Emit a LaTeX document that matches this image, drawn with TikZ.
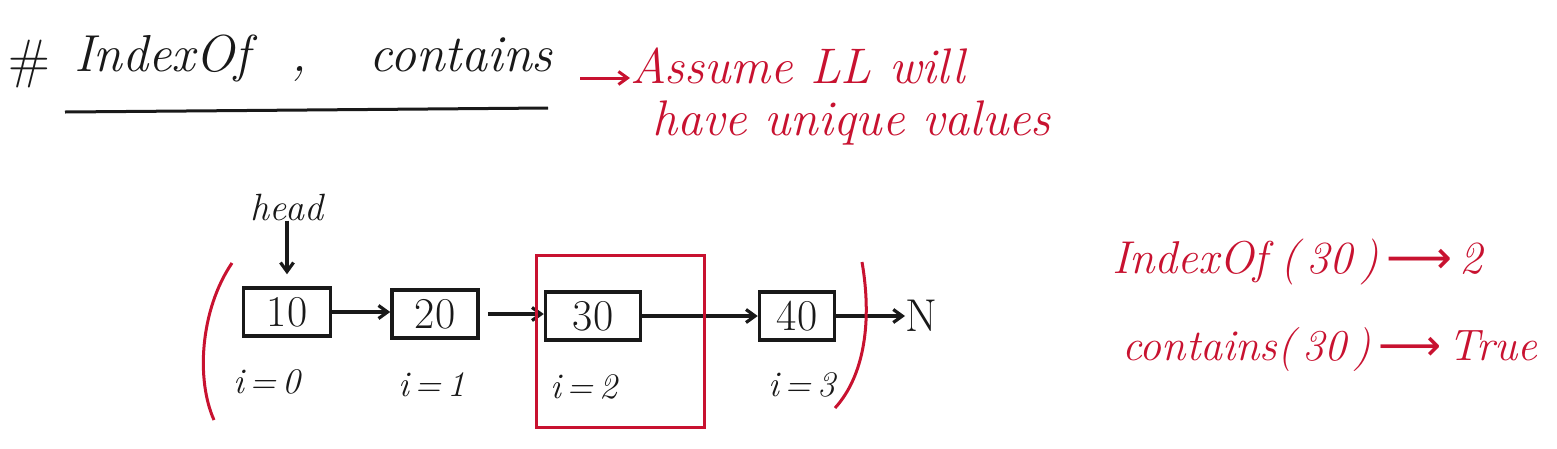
\documentclass[tikz,border=0pt]{standalone}
\usepackage{fontspec}
\newfontfamily\arrowfont{DejaVu Sans}
\usetikzlibrary{arrows.meta}
\definecolor{handred}{RGB}{200,18,48}
\definecolor{ink}{RGB}{25,25,25}
\begin{document}
\begin{tikzpicture}[x=1pt,y=-1pt,
  hand/.style={font=\fontsize{#1}{#1}\selectfont\itshape, inner sep=0pt},
  hand/.default=44,
  box/.style={draw=ink, line width=3.5pt, minimum height=48pt, inner sep=0pt, font=\fontsize{44}{44}\selectfont, text=ink},
  arr/.style={draw=ink, line width=3.2pt, -{Straight Barb[length=9pt,width=13pt]}},
  redarr/.style={draw=handred, line width=3pt, -{Straight Barb[length=9pt,width=13pt]}},
  redline/.style={draw=handred, line width=3pt},
  lbl/.style={hand=36, text=ink}
]
\useasboundingbox (0,0) rectangle (1557,448);
% title
\node[hand=54, text=ink, anchor=west] (hash) at (8,64) {\upshape\#};
\node[hand=52, text=ink, anchor=west] (title) at (74,58) {IndexOf\hspace{42pt},\hspace{62pt}contains};
\coordinate (ulA) at (65,112);
\coordinate (ulB) at (548,108);
\draw[ink, line width=3pt] (ulA) -- (ulB);
\node[hand=50, text=handred, anchor=north west, align=left] (note) at (630,48) {Assume LL will\\[2pt]\hspace{22pt}have unique values};
\coordinate (noteA) at (580,78);
\draw[redarr] (noteA) -- (note.west |- noteA);
% list
\node[hand=38, text=ink] (head) at (287,207) {head};
\node[box, minimum width=87pt] (n10) at (287,312) {10};
\node[box, minimum width=86pt] (n20) at (435,314) {20};
\node[box, minimum width=95pt] (n30) at (593,316) {30};
\node[box, minimum width=75pt] (n40) at (797,316) {40};
\node[hand=46, text=ink, anchor=west] (nul) at (905,316) {\upshape N};
\draw[arr, shorten >=12pt] (head) -- (n10);
\draw[arr] (n10.east) -- (n20.west |- n10.east);
\draw[arr, shorten <=8pt] (n20.east) -- (n30.west |- n20.east);
\draw[arr] (n30.east) -- (n40.west |- n30.east);
\draw[arr] (n40.east) -- (nul.west |- n40.east);
\node[lbl] (i0) at (267,382) {i\,=\,0};
\node[lbl] (i1) at (432,385) {i\,=\,1};
\node[lbl] (i2) at (584,387) {i\,=\,2};
\node[lbl] (i3) at (802,385) {i\,=\,3};
% selection box and parentheses
\node[draw=handred, line width=3pt, minimum width=168pt, minimum height=172pt] (sel) at (620,341) {};
\coordinate (lpA) at (232,263);
\coordinate (lpB) at (214,420);
\draw[redline] (lpA) .. controls (200,310) and (196,380) .. (lpB);
\coordinate (rpA) at (862,262);
\coordinate (rpB) at (835,408);
\draw[redline] (rpA) .. controls (872,320) and (865,375) .. (rpB);
% results
\node[hand=46, text=handred, anchor=west] (q1) at (1112,262) {IndexOf\;(\,30\,)\,{\upshape\arrowfont ⟶}\,2};
\node[hand=44, text=handred, anchor=west] (q2) at (1122,350) {contains(\,30\,)\,{\upshape\arrowfont ⟶}\,True};
\end{tikzpicture}
\end{document}
